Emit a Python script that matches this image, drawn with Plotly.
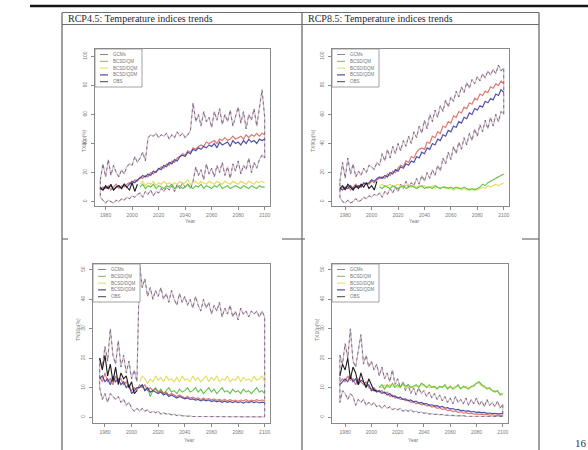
import plotly.graph_objects as go

W, H = 588, 450


def px(x):
    return x / W


def py(y):
    return 1 - y / H


# Biennial time axis: historical 1976-2004, projection 2006-2100
YEARS = list(range(1976, 2101, 2))
HIST_YEARS = YEARS[:15]
FUT_YEARS = YEARS[15:]

SERIES_NAMES = ["GCMs", "BCSD/QM", "BCSD/DQM", "BCSD/QDM", "OBS"]
TITLES = ["RCP4.5: Temperature indices trends", "RCP8.5: Temperature indices trends"]
X_TICKS = [1980, 2000, 2020, 2040, 2060, 2080, 2100]

# ---------------- RCP4.5, TX90p ----------------
tl_gcm_hi = [15, 26, 17, 29, 18, 25, 20, 17, 22, 19, 24, 26, 25, 31, 27,
             30, 34, 28, 44, 46, 45, 47, 44,
             46, 45, 47, 43, 46, 44, 48, 45,
             47, 44, 46, 49, 68, 55, 60, 52,
             62, 55, 58, 51, 62, 56, 64, 53,
             60, 55, 63, 52, 58, 65, 54, 62,
             50, 60, 56, 64, 52, 66, 77, 58]
tl_gcm_lo = [3, 1, -1, 1, 0, -1, 1, 0, 2, 1, 3, 2, 4, 3, 5,
             6, 3, 7, 5, 8, 4, 7, 6,
             9, 7, 10, 8, 11, 7, 12, 9,
             13, 10, 12, 9, 14, 24, 18, 22,
             15, 26, 19, 23, 17, 25, 20, 27,
             18, 24, 16, 26, 21, 28, 19, 25,
             22, 30, 20, 27, 23, 29, 32, 30]
tl_gcm_mean = [8, 10, 9, 11, 8, 10, 12, 9, 11, 10, 12, 13, 12, 15, 14,
               17, 16, 18, 17, 20, 19, 21, 22,
               24, 23, 26, 25, 28, 27, 30, 31,
               33, 32, 35, 34, 37, 36, 38, 39,
               38, 41, 40, 41, 42, 40, 43, 42,
               44, 42, 43, 45, 43, 44, 45, 43,
               46, 44, 46, 45, 47, 45, 47, 46]
tl_qdm = [9, 8, 10, 9, 11, 8, 10, 11, 9, 12, 10, 12, 14, 13, 15,
          16, 18, 17, 19, 18, 21, 20, 23,
          22, 25, 24, 27, 26, 29, 28, 31,
          32, 31, 34, 33, 36, 35, 37, 36,
          38, 37, 39, 38, 40, 37, 41, 39,
          40, 41, 38, 42, 40, 41, 39, 42,
          40, 43, 41, 42, 40, 43, 42, 43]
tl_qm = [10, 12, 9, 11, 10, 12, 9, 11,
         10, 9, 11, 10, 12, 9, 10, 11,
         9, 10, 12, 10, 9, 11, 10, 12,
         9, 11, 10, 9, 11, 10, 12, 9,
         10, 11, 9, 10, 11, 10, 9, 11,
         10, 9, 11, 10, 9, 11, 10, 10]
tl_dqm = [12, 14, 11, 13, 12, 14, 11, 13,
          12, 14, 12, 13, 11, 13, 12, 14,
          12, 13, 15, 12, 13, 14, 12, 14,
          13, 12, 14, 13, 12, 14, 13, 12,
          14, 13, 12, 14, 13, 12, 14, 13,
          12, 14, 13, 12, 14, 13, 14, 13]
tl_obs = [10, 8, 11, 9, 12, 8, 10, 11, 9, 12, 10, 8, 13, 7, 12]

# ---------------- RCP8.5, TX90p ----------------
tr_gcm_hi = [14, 27, 16, 30, 19, 26, 17, 21, 18, 23, 20, 25, 24, 22, 27,
             25, 33, 28, 36, 30, 38, 33, 40,
             35, 42, 38, 45, 40, 48, 44, 52,
             47, 56, 50, 60, 55, 63, 58, 66,
             62, 70, 65, 72, 69, 76, 72, 79,
             75, 82, 78, 84, 81, 86, 83, 88,
             85, 90, 87, 91, 88, 94, 90, 92]
tr_gcm_lo = [3, 0, -1, 1, -1, 0, 2, 0, 1, 3, 2, 4, 3, 5, 4,
             6, 3, 7, 5, 9, 6, 10, 7,
             12, 9, 14, 10, 13, 11, 16, 12,
             18, 14, 20, 16, 22, 18, 25, 21,
             30, 26, 34, 29, 38, 33, 41, 36,
             44, 39, 47, 42, 50, 45, 53, 48,
             56, 50, 58, 52, 60, 55, 62, 60]
tr_gcm_mean = [8, 10, 9, 11, 8, 10, 12, 10, 11, 12, 13, 12, 14, 13, 15,
               16, 17, 16, 19, 18, 21, 20, 23,
               25, 24, 28, 27, 31, 30, 34, 36,
               37, 36, 41, 40, 45, 44, 48, 47,
               52, 51, 55, 54, 59, 58, 62, 61,
               65, 64, 68, 67, 71, 70, 74, 73,
               76, 75, 79, 78, 81, 80, 83, 81]
tr_qdm = [9, 8, 10, 9, 11, 9, 10, 11, 10, 13, 12, 13, 15, 14, 16,
          17, 16, 18, 17, 20, 19, 22, 21,
          24, 23, 26, 25, 28, 27, 31, 30,
          34, 33, 37, 36, 40, 39, 43, 42,
          46, 45, 49, 48, 52, 51, 55, 54,
          58, 57, 61, 60, 64, 63, 66, 65,
          69, 68, 71, 70, 74, 73, 77, 75]
tr_qm = [10, 9, 11, 10, 9, 11, 10, 9,
         10, 11, 9, 10, 11, 10, 9, 10,
         11, 9, 10, 10, 9, 11, 10, 9,
         10, 10, 9, 10, 9, 10, 9, 9,
         10, 9, 8, 9, 8, 9, 10, 12,
         11, 13, 14, 15, 16, 17, 18, 19]
tr_dqm = [11, 12, 10, 11, 12, 10, 11, 12,
          11, 10, 11, 12, 10, 11, 10, 11,
          10, 11, 9, 10, 11, 9, 10, 9,
          10, 9, 10, 9, 8, 9, 10, 8,
          9, 8, 9, 8, 9, 8, 9, 10,
          9, 11, 10, 11, 12, 11, 12, 13]
tr_obs = [9, 11, 8, 12, 10, 8, 11, 9, 12, 10, 13, 9, 11, 8, 14]

# ---------------- RCP4.5, TN10p ----------------
bl_gcm_hi = [20, 17, 24, 19, 30, 21, 18, 26, 17, 21, 15, 19, 13, 16, 12,
             52, 44, 47, 41, 44, 40, 43, 41,
             44, 40, 42, 39, 43, 40, 38, 42,
             39, 41, 38, 40, 37, 41, 38, 36,
             40, 37, 39, 35, 38, 36, 39, 34,
             37, 35, 38, 34, 36, 33, 37, 35,
             36, 34, 36, 35, 36, 34, 36, 34]
bl_gcm_lo = [10, 6, 8, 5, 8, 7, 6, 7, 5, 6, 4, 5, 3, 2, 3,
             2, 3, 2, 2.5, 1.5, 2, 1.5, 2,
             1, 1.5, 1, 1.2, 0.8, 1, 0.5, 0.8,
             0.4, 0.5, 0.3, 0.4, 0.2, 0.3, 0.2, 0.3,
             0.2, 0.1, 0.2, 0.1, 0.2, 0.1, 0.1, 0.2,
             0.1, 0.1, 0.2, 0.1, 0.1, 0.1, 0.2, 0.1,
             0.1, 0.1, 0.1, 0.2, 0.1, 0.1, 0.1, 0.1]
bl_gcm_mean = [14, 12, 15, 12, 13, 11, 14, 12, 13, 11, 12, 10, 9, 10, 9,
               11, 10, 11, 9, 10, 9, 9.5, 8.5,
               9, 8, 8.5, 7.5, 8, 7.5, 7, 7.5,
               7, 6.5, 7, 6.5, 6.8, 6.3, 6.5, 6,
               6.4, 6, 6.3, 5.8, 6.2, 5.7, 6, 5.6,
               6, 5.5, 5.9, 5.5, 5.8, 5.4, 5.8, 5.5,
               5.9, 5.4, 5.8, 5.5, 5.9, 5.5, 5.8, 5.6]
bl_qdm = [13, 14, 12, 13, 11, 14, 12, 13, 11, 12, 10, 11, 8, 9, 10,
          10, 11, 9, 10, 8.5, 9, 8.5, 8,
          8.5, 7.5, 8, 7, 7.5, 7, 6.5, 7,
          6.5, 6.2, 6.5, 6, 6.2, 5.8, 6, 5.5,
          5.9, 5.5, 5.8, 5.3, 5.6, 5.2, 5.5, 5,
          5.4, 5, 5.3, 4.9, 5.3, 4.9, 5.2, 4.8,
          5.2, 4.9, 5.3, 4.9, 5.2, 4.8, 5.1, 4.9]
bl_qm = [10, 11, 9, 10, 7, 9, 10, 8.5,
         9.5, 8, 9, 10, 8.5, 9, 8, 9.5,
         8.5, 9, 10, 8.5, 9, 10, 8.5, 9.5,
         8, 9, 10, 8.5, 9.5, 8, 9, 10,
         8.5, 9, 8, 9.5, 8.5, 9, 8, 9.5,
         8.5, 9, 8, 9, 10, 8.5, 9, 8]
bl_dqm = [12, 14, 13, 11.5, 13, 12, 14, 12.5,
          13.5, 12, 14, 12.5, 13, 12, 13.5, 12,
          14, 12.5, 13, 12, 14, 12.5, 13.5, 12,
          13, 14, 12, 13.5, 12.5, 14, 12, 13,
          12.5, 14, 12, 13, 12.5, 14, 12, 13.5,
          12.5, 13, 12, 14, 12.5, 13, 14, 12]
bl_obs = [20, 16, 21, 14, 18, 12, 17, 11, 15, 13, 14, 10, 12, 8, 9]

# ---------------- RCP8.5, TX10p ----------------
br_gcm_hi = [21, 18, 25, 20, 30, 19, 17, 22, 28, 18, 21, 17, 19, 16, 18,
             14, 17, 13, 15, 12, 16, 11, 13,
             10, 12, 9, 11, 8, 10, 7.5, 10,
             8, 9, 7, 8.5, 6.5, 8, 6, 7.5,
             5.5, 7, 5, 6.5, 4.5, 7, 5, 6,
             4.5, 6.5, 4, 6, 4.5, 6.5, 4, 5.5,
             3.5, 6, 4, 5, 3.5, 5.5, 3, 4.5]
br_gcm_lo = [5, 9, 8, 6, 8, 7, 4, 6, 5, 6, 4, 5, 4, 5, 3.5,
             4, 3, 4, 3, 3.5, 2.5, 3, 2.5,
             3, 2, 2.5, 2, 2.5, 1.8, 2, 1.5,
             1.8, 1.3, 1.5, 1, 1.2, 0.9, 1, 0.8,
             0.9, 0.6, 0.7, 0.5, 0.6, 0.4, 0.5, 0.4,
             0.5, 0.3, 0.4, 0.3, 0.4, 0.3, 0.3, 0.2,
             0.3, 0.2, 0.3, 0.2, 0.2, 0.2, 0.2, 0.2]
br_gcm_mean = [12, 13, 12, 14, 12.5, 13, 11, 13, 12, 11, 12, 10, 9.5, 10, 9,
               8.5, 9, 8, 8.5, 7, 7.5, 6.5, 6.8,
               6, 6.2, 5.5, 5.8, 5, 5.2, 4.5, 4.8,
               4.2, 4.4, 3.8, 4, 3.4, 3.6, 3, 3.2,
               2.6, 2.8, 2.2, 2.4, 1.9, 2.1, 1.6, 1.8,
               1.4, 1.5, 1.2, 1.3, 1, 1.1, 0.9, 1,
               0.8, 0.9, 0.7, 0.8, 0.6, 0.7, 0.6, 0.6]
br_qdm = [11, 12, 13, 12, 14, 12, 13, 11, 12.5, 12, 10.5, 11, 9, 9.5, 8.5,
          9, 8, 8.5, 7.5, 8, 7, 7.2, 6.5,
          6.8, 6, 6.2, 5.5, 5.8, 5.2, 5.4, 4.8,
          5, 4.5, 4.6, 4.1, 4.2, 3.8, 3.9, 3.4,
          3.6, 3.1, 3.2, 2.8, 2.9, 2.5, 2.6, 2.2,
          2.3, 2, 2.1, 1.8, 1.9, 1.6, 1.7, 1.5,
          1.6, 1.3, 1.4, 1.2, 1.3, 1.1, 1.2, 1.3]
br_qm = [10, 11, 9.5, 11, 10, 11.5, 10, 11,
         10, 11.5, 10.5, 11, 10, 10.5, 11, 10,
         11.5, 11, 10, 11, 10, 10.5, 9.5, 10.5,
         10, 11, 9.5, 10.5, 9.5, 10, 11, 9.5,
         10.5, 10, 9.5, 10.5, 10.5, 11.5, 12, 11,
         10.5, 9.5, 10, 9, 8.5, 9, 7.5, 8]
br_dqm = [10.5, 10, 11, 10, 11, 10.5, 11, 10,
          10.5, 11, 10, 10.5, 10.5, 10, 10.5, 10.5,
          11, 10.5, 10.5, 10, 10.5, 10, 10, 10,
          10.5, 10.5, 10, 10, 10, 10.5, 10.5, 10,
          10, 10.5, 10, 10, 11, 11.5, 11.5, 10.5,
          10, 10, 9.5, 9, 9, 8.5, 8, 7.5]
br_obs = [14, 18, 16, 20, 13, 17, 15, 11, 15, 12, 10, 13, 11, 9, 9]

# Panel geometry (pixel box of plotting region) and contents
PANELS = [
    dict(box=(95, 49, 270, 206), xr=[1972, 2104], yr=[-3, 105], yt=[0, 20, 40, 60, 80, 100],
         ytitle="TX90p(%)", ytitle_x=79, xtitle_y=221,
         hi=tl_gcm_hi, lo=tl_gcm_lo, mean=tl_gcm_mean, qdm=tl_qdm, qm=tl_qm, dqm=tl_dqm, obs=tl_obs),
    dict(box=(332, 49, 509, 206), xr=[1970, 2104], yr=[-3, 105], yt=[0, 20, 40, 60, 80, 100],
         ytitle="TX90p(%)", ytitle_x=313, xtitle_y=221,
         hi=tr_gcm_hi, lo=tr_gcm_lo, mean=tr_gcm_mean, qdm=tr_qdm, qm=tr_qm, dqm=tr_dqm, obs=tr_obs),
    dict(box=(93, 264, 270, 423), xr=[1971, 2104], yr=[-2, 52], yt=[0, 10, 20, 30, 40, 50],
         ytitle="TN10p(%)", ytitle_x=73, xtitle_y=445,
         hi=bl_gcm_hi, lo=bl_gcm_lo, mean=bl_gcm_mean, qdm=bl_qdm, qm=bl_qm, dqm=bl_dqm, obs=bl_obs),
    dict(box=(332, 264, 508, 423), xr=[1970, 2104], yr=[-2, 52], yt=[0, 10, 20, 30, 40, 50],
         ytitle="TX10p(%)", ytitle_x=317, xtitle_y=445,
         hi=br_gcm_hi, lo=br_gcm_lo, mean=br_gcm_mean, qdm=br_qdm, qm=br_qm, dqm=br_dqm, obs=br_obs),
]

C_ENV_LIGHT = "#d2c2ce"
C_ENV_DARK = "#6e5470"
C_MEAN = "#d65a52"
C_QDM = "#34349a"
C_QM = "#62c44a"
C_DQM = "#e6dc60"
C_OBS = "#1c1c1c"
LEGEND_COLORS = ["#9a7f90", "#8fb060", "#e4da52", "#2c2c70", "#444444"]

AXIS_GRAY = "#8a8a8a"
TICK_FONT = dict(family="Liberation Sans", size=5, color="#7a7a7a")

fig = go.Figure()
layout = dict(
    width=W, height=H, margin=dict(l=0, r=0, t=0, b=0),
    paper_bgcolor="white", plot_bgcolor="white", showlegend=False,
)
shapes = []
annotations = []

for i, p in enumerate(PANELS):
    n = "" if i == 0 else str(i + 1)
    xa, ya = "x" + n, "y" + n
    x0, y0, x1, y1 = p["box"]

    # GCM envelope drawn as a closed outline
    env_x = YEARS + YEARS[::-1] + [YEARS[0]]
    env_y = p["hi"] + p["lo"][::-1] + [p["hi"][0]]
    fig.add_trace(go.Scatter(x=env_x, y=env_y, mode="lines", xaxis=xa, yaxis=ya,
                             line=dict(color=C_ENV_LIGHT, width=1.2)))
    fig.add_trace(go.Scatter(x=env_x, y=env_y, mode="lines", xaxis=xa, yaxis=ya,
                             line=dict(color=C_ENV_DARK, width=0.8, dash="dot")))
    fig.add_trace(go.Scatter(x=FUT_YEARS[:len(p["dqm"])], y=p["dqm"], mode="lines",
                             xaxis=xa, yaxis=ya, line=dict(color=C_DQM, width=1.1)))
    fig.add_trace(go.Scatter(x=FUT_YEARS[:len(p["qm"])], y=p["qm"], mode="lines",
                             xaxis=xa, yaxis=ya, line=dict(color=C_QM, width=1.1)))
    fig.add_trace(go.Scatter(x=YEARS[:len(p["mean"])], y=p["mean"], mode="lines",
                             xaxis=xa, yaxis=ya, opacity=0.8,
                             line=dict(color=C_MEAN, width=1.2)))
    fig.add_trace(go.Scatter(x=YEARS[:len(p["qdm"])], y=p["qdm"], mode="lines",
                             xaxis=xa, yaxis=ya, opacity=0.85,
                             line=dict(color=C_QDM, width=1.2)))
    fig.add_trace(go.Scatter(x=HIST_YEARS[:len(p["obs"])], y=p["obs"], mode="lines",
                             xaxis=xa, yaxis=ya, line=dict(color=C_OBS, width=1.1)))

    common = dict(showgrid=False, zeroline=False, showline=True, mirror=True,
                  linecolor=AXIS_GRAY, linewidth=0.9, ticks="outside", ticklen=3,
                  tickwidth=0.8, tickcolor=AXIS_GRAY, tickfont=TICK_FONT)
    layout["xaxis" + n] = dict(domain=[px(x0), px(x1)], range=p["xr"], anchor=ya,
                               tickmode="array", tickvals=X_TICKS, ticklabelstandoff=1, **common)
    layout["yaxis" + n] = dict(domain=[py(y1), py(y0)], range=p["yr"], anchor=xa,
                               tickmode="array", tickvals=p["yt"], tickangle=-90,
                               ticklabelstandoff=2, **common)

    # Axis titles
    annotations.append(dict(text="Year", x=px((x0 + x1) / 2), y=py(p["xtitle_y"]),
                            xref="paper", yref="paper", showarrow=False,
                            font=dict(family="Liberation Sans", size=5, color="#777")))
    annotations.append(dict(text=p["ytitle"], x=px(p["ytitle_x"]), y=py((y0 + y1) / 2),
                            xref="paper", yref="paper", showarrow=False, textangle=-90,
                            font=dict(family="Liberation Sans", size=5, color="#777")))

    # Legend box in the top-left corner of the plotting region
    lw, lh = 47, 38
    shapes.append(dict(type="rect", xref="paper", yref="paper",
                       x0=px(x0), x1=px(x0 + lw), y0=py(y0 + lh), y1=py(y0),
                       line=dict(color=AXIS_GRAY, width=0.8), fillcolor="white"))
    for k, (name, col) in enumerate(zip(SERIES_NAMES, LEGEND_COLORS)):
        ry = y0 + 5.5 + k * 6.8
        shapes.append(dict(type="line", xref="paper", yref="paper",
                           x0=px(x0 + 5), x1=px(x0 + 13), y0=py(ry), y1=py(ry),
                           line=dict(color=col, width=1)))
        annotations.append(dict(text=name, x=px(x0 + 16), y=py(ry), xref="paper", yref="paper",
                                xanchor="left", yanchor="middle", showarrow=False,
                                font=dict(family="Liberation Sans", size=4.5, color="#777")))

# Page elements: rule, table frame, header row, cell titles, page number
LINE_GRAY = "#6e6e6e"
page_lines = [
    ((30, 6), (588, 6), "#151515", 2.5),
    ((62, 12.5), (539, 12.5), LINE_GRAY, 1.2),
    ((62, 24.5), (539, 24.5), LINE_GRAY, 1.2),
    ((62, 12.5), (62, 450), LINE_GRAY, 1.3),
    ((302, 12.5), (302, 450), LINE_GRAY, 1.3),
    ((539, 12.5), (539, 450), LINE_GRAY, 1.3),
    ((62, 239), (68, 239), LINE_GRAY, 1.2),
    ((282, 239), (305, 239), LINE_GRAY, 1.2),
    ((522, 239), (539, 239), LINE_GRAY, 1.2),
]
for (ax0, ay0), (ax1, ay1), col, wd in page_lines:
    shapes.append(dict(type="line", xref="paper", yref="paper",
                       x0=px(ax0), y0=py(ay0), x1=px(ax1), y1=py(ay1),
                       line=dict(color=col, width=wd)))

for tx, title in zip([66, 306], TITLES):
    annotations.append(dict(text=title, x=px(tx), y=py(18.5), xref="paper", yref="paper",
                            xanchor="left", yanchor="middle", showarrow=False,
                            font=dict(family="Liberation Serif", size=10, color="#2a2a2a")))

annotations.append(dict(text="16", x=px(573), y=py(443), xref="paper", yref="paper",
                        xanchor="left", yanchor="middle", showarrow=False,
                        font=dict(family="Liberation Serif", size=11, color="#333")))

layout["shapes"] = shapes
layout["annotations"] = annotations
fig.update_layout(**layout)

fig.write_html("out.html")
